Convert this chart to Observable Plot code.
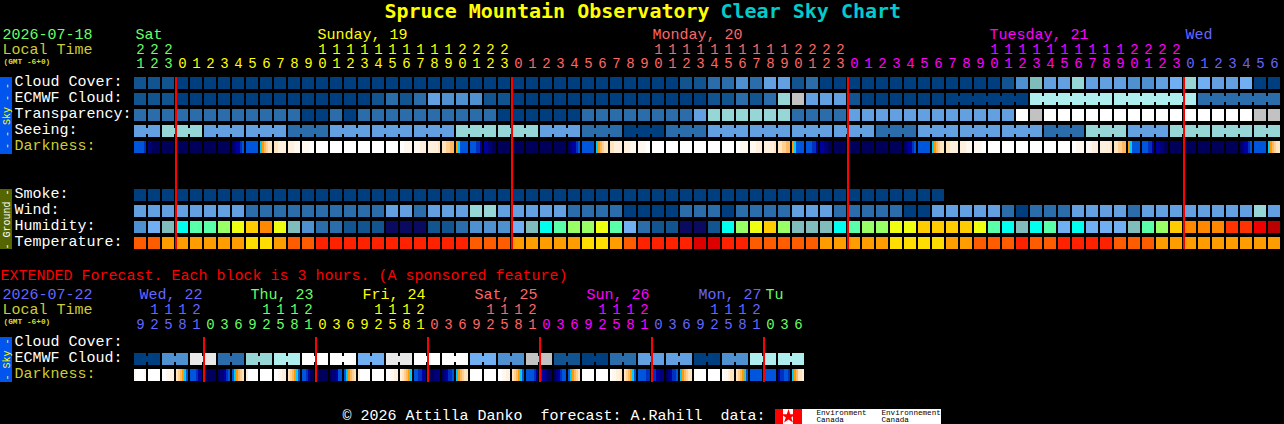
<!DOCTYPE html>
<html>
<head>
<meta charset="utf-8">
<script src="https://cdn.jsdelivr.net/npm/d3@7"></script>
<script src="https://cdn.jsdelivr.net/npm/@observablehq/plot@0.6"></script>
<style>
html,body{margin:0;padding:0;background:#000;overflow:hidden}
svg{display:block}
</style>
</head>
<body>
<script>
// ---------- values (one letter = one forecast block) ----------
const cloudCover   = "bbbaaaaaaa aaaaaaaaaa aaaaaaaaaa aaaaaaaaab bccdceebca aaaaaaaaaa aabdgeehee eddefhfeef aa";
const ecmwfCloud   = "bbbaaaaaaa aaaaaaabcb cedddbbaaa aaaaaaaaaa abbcbchjee ebaaaaaaaa aaaaiiiiii iiiiiicccc cc";
const transparency = "cccccccccc ccaacacccc ccccccaaaa aacccccccc ehhhhhhccc ceeeeeeeee eeeljlllll llllllllll jj";
const seeingValues = ["e","h","e","e","c","e","e","e","h","h","e","c","a","c","e","e","e","e","c","e","e","e","c","h","e","h","h","h"];
const seeingSpans  = [2,3,3,3,3,3,3,3,3,3,3,3,3,3,3,3,3,3,3,3,3,3,3,3,3,3,3,2];
const smoke        = "aaaaaaaaaa aaaaaaaaaa aaaaaaaaaa aaaaaaaaaa aaaaaaaaaa aaaaaaaa";
const wind         = "eeeeeeeecc ccccccccee ceeehheeee eccccaaaac ccacccceee cccccaaeee eecaccceee eceeeeeeee he";
const humidity     = "dfgCMMVSPQ Sgdccbbbnn nbbcdddfgC MVVSMfcbbn nbCVSPVggg CMVVSSPPPP SMCgCMfCff fgMVPQQQWW EF";
const temperature  = "TTOOOOOOYY OTTRRRRRRR RRRRTTTOOO OOYYOTRRRR DDRRTTTTTO OOOOYYYYOO TTTRTTRRRR TTTOOOOOOO OO";
// darkness: each block is read as one or more equal slices across its width
const darkness = ["444443","110000","0","0","0","0","0","012234","4","567899","99xxxx","xxxyyy","yyyyzz","z","z","z","z","z","z","zzyyyy","yyyxxx","xxxxx9",
 "998877","654444","444332","221100","0","0","0","0","0","012234","4","567899","99xxxx","xxxyyy","yyyyzz","z","z","z","z","z","z","zzyyyy","yyyxxx","xxxxx9",
 "998877","654444","444332","221100","0","0","0","0","0","012234","4","567899","99xxxx","xxxyyy","yyyyzz","z","z","z","z","z","z","zzyyyy","yyyxxx","xxxxx9",
 "998877","654444","444332","221100","0","0","0","0","0","012234","4","567899"];
const ecmwfJoinedRuns = [[58,63],[64,69],[70,75],[76,81]];

const mainHours = [21,22,23,
 0,1,2,3,4,5,6,7,8,9,10,11,12,13,14,15,16,17,18,19,20,21,22,23,
 0,1,2,3,4,5,6,7,8,9,10,11,12,13,14,15,16,17,18,19,20,21,22,23,
 0,1,2,3,4,5,6,7,8,9,10,11,12,13,14,15,16,17,18,19,20,21,22,23,
 0,1,2,3,4,5,6];
const mainMidnights = [3,27,51,75];
const mainDayLabels = [["Sat",135],["Sunday, 19",317],["Monday, 20",652],["Tuesday, 21",989],["Wed",1185]];
const mainDayColors = ["#66ff66","#ffff00","#ff6666","#ff00ff","#6666ff"];

const extPairs = ["a","d","k","c","h","i","l","l","f","k","l","l","f","d","j","b","a","c","e","e","a","d","i","i"];
const extDarkness = ["yzzzzy","z","zzyyxx","987654","444322","200000","011234","456789","xzzzzz","z","zzyyxx","987654","443200","0","011244","456789","xzzzzz","z","zzyyxx","x98765","443322","000111",
 "012334","567899","z","z","zzyyxx","987654","444432","322100","012344","456789","z","z","zyyxx9","987654","444433","332211","012334","567899","z","z","zyyx99","9876G4","444444","444444","233443","56799x"];
const extHours = [9,12,15,18,21, 0,3,6,9,12,15,18,21, 0,3,6,9,12,15,18,21, 0,3,6,9,12,15,18,21, 0,3,6,9,12,15,18,21, 0,3,6,9,12,15,18,21, 0,3,6];
const extMidnights = [5,13,21,29,37,45];
const extDayLabels = [["Wed, 22",139],["Thu, 23",250],["Fri, 24",362],["Sat, 25",474],["Sun, 26",586],["Mon, 27",698],["Tu",765]];
const extDayColors = ["#6666ff","#66ff66","#ffff00","#ff6666","#ff00ff","#6666ff","#66ff66"];

const levels = {
  a:"#003f7f",b:"#12548f",c:"#2b6cab",d:"#4e90d0",e:"#62a0e2",f:"#70b0f2",g:"#80bcbc",h:"#96d6d6",i:"#aeeeee",j:"#c2c2c2",k:"#e8e8e8",l:"#ffffff",
  n:"#0a0a60",C:"#00ffee",M:"#5affaa",V:"#99ff66",S:"#eeff11",P:"#ffcc00",Q:"#ff8800",W:"#ff3300",E:"#ee0000",F:"#bb0000",
  T:"#ff5c00",R:"#ff2200",O:"#ff9d00",Y:"#ffdd00",
  0:"#00005a",1:"#000078",2:"#0000a0",3:"#0030c0",4:"#0055dd",5:"#00ccff",6:"#ff9900",7:"#ffb860",8:"#ffd090",9:"#ffe4c0",
  x:"#fff0dd",y:"#fff8f0",z:"#ffffff",G:"#66bb88",D:"#dd0000"
};

// ---------- layout ----------
const W = 1284, H = 424, STEP = 14, LEFT = 134, BLOCK = 12;
const col = px => (px - LEFT) / STEP;             // pixel position -> block column (x scale domain)
const rowTop = {cloud:77, ecmwf:93, trans:109, seeing:125, dark:141, smoke:189, wind:205, humid:221, temp:237, xCloud:337, xEcmwf:353, xDark:369};
const codes = s => s.replace(/ /g,"").split("");

const cells = [], joins = [];
function addRow(row, letters){ letters.forEach((code,i)=>cells.push({row,a:i,b:i+BLOCK/STEP,code})); }
function addJoin(row, from, to, code){
  for(let i=from;i<to;i++) joins.push({row,i,code});
}
function addSliced(row, blocks){
  blocks.forEach((s,i)=>{ const n=s.length; [...s].forEach((code,k)=>cells.push({row,a:i+k*BLOCK/STEP/n,b:i+(k+1)*BLOCK/STEP/n,code})); });
}
const ecmwfCodes = codes(ecmwfCloud);
addRow("cloud", codes(cloudCover));
addRow("ecmwf", ecmwfCodes);
ecmwfJoinedRuns.forEach(([f,t])=>addJoin("ecmwf",f,t,ecmwfCodes[f]));
addRow("trans", codes(transparency));
{ let start=0; const seeing=[];
  seeingValues.forEach((v,g)=>{ const n=seeingSpans[g]; for(let k=0;k<n;k++) seeing.push(v); addJoin("seeing",start,start+n-1,v); start+=n; });
  addRow("seeing", seeing); }
addSliced("dark", darkness);
addRow("smoke", codes(smoke));
addRow("wind", codes(wind));
addRow("humid", codes(humidity));
addRow("temp", codes(temperature));
{ const x=[]; extPairs.forEach((v,p)=>{ x.push(v,v); addJoin("xEcmwf",p*2,p*2+1,v); }); addRow("xEcmwf",x); }
addSliced("xDark", extDarkness);

// text helper
const FONT = "Liberation Mono, DejaVu Sans Mono, monospace";
const TITLE_FONT = "DejaVu Sans Mono, Liberation Mono, monospace";
const texts = [];
function T(text,px,y,fill,opts={}){ texts.push({text,x:col(px),y:y-1,fill,size:opts.size??15,weight:opts.weight??"normal",anchor:opts.anchor??"start",rot:opts.rot??0,font:opts.font??FONT}); }

T("Spruce Mountain Observatory",384,12,"#ffff00",{size:20,weight:"bold",font:TITLE_FONT});
T("Clear Sky Chart",720,12,"#00cccc",{size:20,weight:"bold",font:TITLE_FONT});
T("2026-07-18",2,35,"#66ff66");
T("Local Time",2,50,"#cccc33");
T("(GMT -6+0)",3,62,"#dddd33",{size:7.8,weight:"bold"});
mainDayLabels.forEach(([s,p],i)=>T(s,p,35,mainDayColors[i]));
function hoursRow(hours,colors,y2,y3){
  let d=0; hours.forEach((h,i)=>{ if(i>0&&h<hours[i-1]) d++; const cx=LEFT+STEP*i+BLOCK/2;
    if(h>=10) T(String(Math.floor(h/10)),cx,y2,colors[d],{anchor:"middle",size:14});
    T(String(h%10),cx,y3,colors[d],{anchor:"middle",size:14}); });
}
hoursRow(mainHours,mainDayColors,50,64);
[["Cloud Cover:",82],["ECMWF Cloud:",98],["Transparency:",114],["Seeing:",130]].forEach(([s,y])=>T(s,14,y,"#ffffff"));
T("Darkness:",14,146,"#cccc33");
[["Smoke:",194],["Wind:",210],["Humidity:",226],["Temperature:",242]].forEach(([s,y])=>T(s,14,y,"#ffffff"));
T("EXTENDED Forecast. Each block is 3 hours. (A sponsored feature)",0,276,"#ff0000");
T("2026-07-22",2,295,"#6666ff");
T("Local Time",2,310,"#cccc33");
T("(GMT -6+0)",3,322,"#dddd33",{size:7.8,weight:"bold"});
extDayLabels.forEach(([s,p],i)=>T(s,p,295,extDayColors[i]));
hoursRow(extHours,extDayColors,310,325);
T("Cloud Cover:",14,342,"#ffffff"); T("ECMWF Cloud:",14,358,"#ffffff"); T("Darkness:",14,374,"#cccc33");
T("- - Sky - -",6,116.5,"#ffff00",{size:10,rot:-90,anchor:"middle"});
T("- Ground -",6,220,"#ffffff",{size:10,rot:-90,anchor:"middle"});
T("- Sky -",6,360,"#ffff00",{size:10,rot:-90,anchor:"middle"});
T("\u00a9 2026 Attilla Danko  forecast: A.Rahill  data:",342,416,"#ffffff");
T("Environment",816,413,"#000000",{size:7.6});
T("Canada",816,420,"#000000",{size:7.6});
T("Environnement",881,413,"#000000",{size:7.6});
T("Canada",881,420,"#000000",{size:7.6});

const panels = [
  {x1:0,x2:12,y1:77,y2:154,fill:"#0055ee"},
  {x1:0,x2:12,y1:189,y2:249,fill:"#556600"},
  {x1:0,x2:12,y1:337,y2:382,fill:"#0055ee"},
  {x1:775,x2:941,y1:409,y2:424,fill:"#ffffff"},
  {x1:775,x2:783,y1:409,y2:424,fill:"#ff0000"},
  {x1:793,x2:802,y1:409,y2:424,fill:"#ff0000"}
];

const chart = Plot.plot({
  width:W, height:H, margin:0,
  style:{background:"#000"},
  x:{type:"linear", domain:[col(0),col(W)], range:[0,W], axis:null},
  y:{type:"linear", domain:[0,H], range:[0,H], axis:null},
  color:{type:"ordinal", domain:Object.keys(levels), range:Object.values(levels), legend:false},
  marks:[
    Plot.rect(panels,{x1:d=>col(d.x1),x2:d=>col(d.x2),y1:"y1",y2:"y2",fill:d=>d.fill,shapeRendering:"crispEdges"}),
    Plot.rect(cells,{x1:"a",x2:"b",y1:d=>rowTop[d.row],y2:d=>rowTop[d.row]+BLOCK,fill:"code",shapeRendering:"crispEdges"}),
    Plot.rect(joins,{x1:d=>d.i+BLOCK/STEP,x2:d=>d.i+1,y1:d=>rowTop[d.row]+3,y2:d=>rowTop[d.row]+9,fill:"code",shapeRendering:"crispEdges"}),
    Plot.ruleX(mainMidnights,{x:d=>d,y1:77,y2:249,stroke:"#ff0000",strokeWidth:2,dx:-0.5}),
    Plot.ruleX(extMidnights,{x:d=>d,y1:337,y2:382,stroke:"#ff0000",strokeWidth:2,dx:-0.5}),
    Plot.dot([{x:788,y:416}],{x:d=>col(d.x),y:"y",r:4.5,symbol:"star",fill:"#ff0000",stroke:"none"}),
    ...d3.groups(texts,d=>`${d.size}|${d.weight}|${d.anchor}|${d.rot}|${d.font}`).map(([,g])=>
      Plot.text(g,{x:"x",y:"y",text:"text",fill:d=>d.fill,fontSize:g[0].size,fontWeight:g[0].weight,textAnchor:g[0].anchor,rotate:g[0].rot,lineAnchor:"middle",fontFamily:g[0].font}))
  ]
});
document.body.appendChild(chart);
</script>
</body>
</html>
